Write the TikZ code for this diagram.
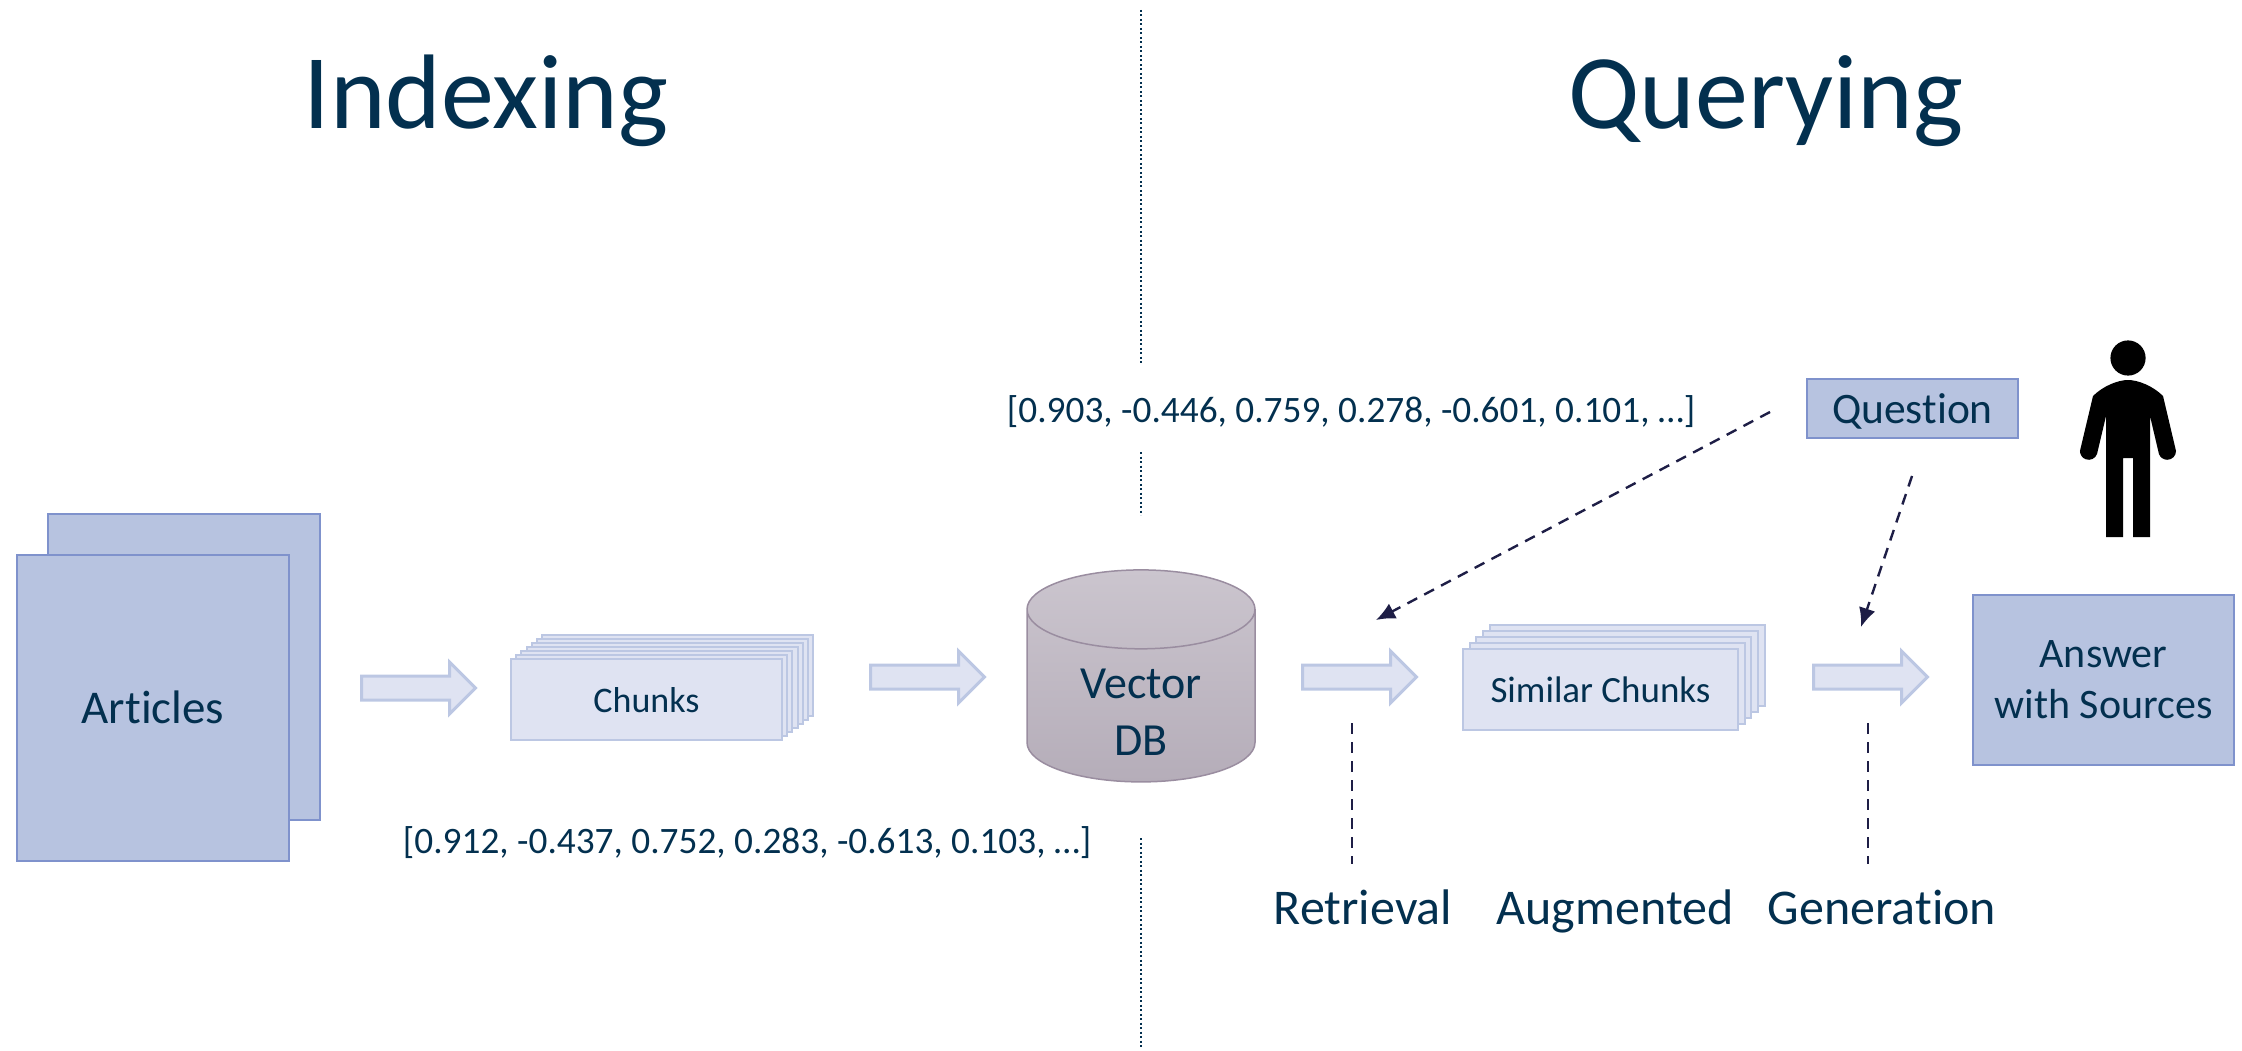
\documentclass[tikz,border=0pt]{standalone}
\usepackage{fontspec}
\setmainfont{Carlito}[Ligatures=NoCommon]
\usetikzlibrary{arrows.meta,shapes.arrows,shapes.geometric}
\definecolor{inkblue}{HTML}{03304F}
\definecolor{darkfill}{HTML}{B7C3E0}
\definecolor{darkedge}{HTML}{7F92CC}
\definecolor{lightfill}{HTML}{DFE3F2}
\definecolor{lightedge}{HTML}{BCC7E3}
\definecolor{dashink}{HTML}{1E1E46}
\definecolor{dbtop}{HTML}{CBC5CE}
\definecolor{dbbot}{HTML}{B5ADB9}
\definecolor{dbedge}{HTML}{9A8DA0}
\begin{document}
\begin{tikzpicture}
	[
	 x = 1pt,
	 y = -1pt,
	 every node/.style = {text = inkblue,
		                  align = center,
		                  inner sep = 0pt},
	 Big/.style  = {font=\fontsize{106}{120}\selectfont, anchor=base},
	 Mid/.style  = {font=\fontsize{50}{58}\selectfont, anchor=base},
	 Low/.style  = {font=\fontsize{37.3}{44}\selectfont, anchor=base},
	 DK/.style   = {draw=darkedge, fill=darkfill, line width=2pt},
	 LT/.style   = {draw=lightedge, fill=lightfill, line width=2pt, minimum height=81pt},
	 BA/.style   = {single arrow,
	                draw = lightedge,
	                fill = lightfill,
	                line width = 3pt,
	                anchor = tail,
	                minimum height = 114pt,
	                minimum width = 49pt,
	                inner ysep = 10.5pt,
	                single arrow tip angle = 90,
	                single arrow head extend = 14pt},
	 DL/.style   = {draw=dashink, line width=2.4pt, dash pattern=on 11pt off 8pt},
	 DV/.style   = {draw=inkblue, line width=1.5pt, dash pattern=on 2pt off 2.5pt},
	 TP/.style   = {-{Latex[length=19pt,width=17pt]}}
	]

	\newcommand{\VecA}{[0.912, -0.437, 0.752, 0.283, -0.613, 0.103, …]}
	\newcommand{\VecB}{[0.903, -0.446, 0.759, 0.278, -0.601, 0.101, …]}
	\newcommand{\DbLine}[1]{\raisebox{-16pt}[\height][\depth]{#1}}

	\useasboundingbox (0,0) rectangle (2242,1051);

	\node [Big] (TI) at (486,129) {Indexing};
	\node [Big] (TQ) at (1766,129) {Querying};

	% divider
	\coordinate (V0) at (1141,10);
	\coordinate (V1) at (1141,365);
	\coordinate (V2) at (1141,452);
	\coordinate (V3) at (1141,515);
	\coordinate (V4) at (1141,838);
	\coordinate (V5) at (1141,1048);
	\draw [DV] (V0) -- (V1);
	\draw [DV] (V2) -- (V3);
	\draw [DV] (V4) -- (V5);

	% articles
	\node [DK, minimum width=272pt, minimum height=306pt] (A2) at (184,667) {};
	\node [DK, font=\fontsize{47}{58}\selectfont, text height=30pt, text depth=0pt, minimum width=272pt, minimum height=306pt] (A1) at (153,708) {Articles};
	\node [BA] (R1) at (360,688) {};

	% chunks
	\foreach \i in {6,5,...,1}
		\node [LT, minimum width=271pt] (C\i) at (646.5+5.2*\i,699.5-4*\i) {};
	\node [LT, minimum width=271pt, font=\fontsize{36}{44}\selectfont, text height=25pt, text depth=0pt] (C0) at (646.5,699.5) {Chunks};
	\node [BA] (R2) at (869,677) {};
	\node [Low] (V1T) at (747,853) {\VecA};

	% database
	\node [cylinder,
	       shape border rotate = 90,
	       aspect = 0.65,
	       minimum width = 228pt,
	       minimum height = 212pt,
	       draw = dbedge,
	       line width = 1.5pt,
	       top color = dbtop,
	       bottom color = dbbot,
	       font = \fontsize{46}{57}\selectfont] (DB) at (1141,696) {\DbLine{Vector}\\\DbLine{DB}};

	\node [BA] (R3) at (1301,677) {};

	% similar chunks
	\foreach \i in {4,3,2,1}
		\node [LT, minimum width=275pt] (S\i) at (1600.5+6.7*\i,689.5-6.1*\i) {};
	\node [LT, minimum width=275pt, font=\fontsize{37}{44}\selectfont, text height=25pt, text depth=0pt] (S0) at (1600.5,689.5) {Similar Chunks};
	\node [BA] (R4) at (1812,677) {};

	\node [DK, minimum width=261pt, minimum height=170pt, font=\fontsize{42}{51}\selectfont] (AN) at (2103.5,680) {Answer\\with Sources};
	\node [DK, minimum width=211pt, minimum height=59pt, font=\fontsize{43.5}{50}\selectfont, text height=29pt, text depth=0pt] (QU) at (1912.5,408.5) {Question};
	\node [Low] (V2T) at (1351,422) {\VecB};

	% dashed arrows
	\coordinate (Q1) at (1770,412);
	\coordinate (Q2) at (1376,620);
	\coordinate (Q3) at (1912,476);
	\coordinate (Q4) at (1861,627);
	\draw [DL, TP] (Q1) -- (Q2);
	\draw [DL, TP] (Q3) -- (Q4);

	\coordinate (D1) at (1352,723);
	\coordinate (D2) at (1352,864);
	\coordinate (D3) at (1868,723);
	\coordinate (D4) at (1868,864);
	\draw [DL] (D1) -- (D2);
	\draw [DL] (D3) -- (D4);

	\node [Mid] (L1) at (1363,924) {Retrieval};
	\node [Mid] (L2) at (1615,924) {Augmented};
	\node [Mid] (L3) at (1882,924) {Generation};

	% person
	\fill (2128,358) circle (17.6);
	\fill
		(2106,537) -- (2106,416) -- (2097,454) arc (20:180:8.8) -- (2093,396)
		.. controls (2103,386) and (2118,380) .. (2128,380)
		.. controls (2138,380) and (2153,386) .. (2163,396)
		-- (2176,451) arc (0:160:8.8) -- (2150,416) -- (2150,537) -- (2133,537)
		-- (2133,458) -- (2123,458) -- (2123,537) -- cycle;
\end{tikzpicture}
\end{document}
